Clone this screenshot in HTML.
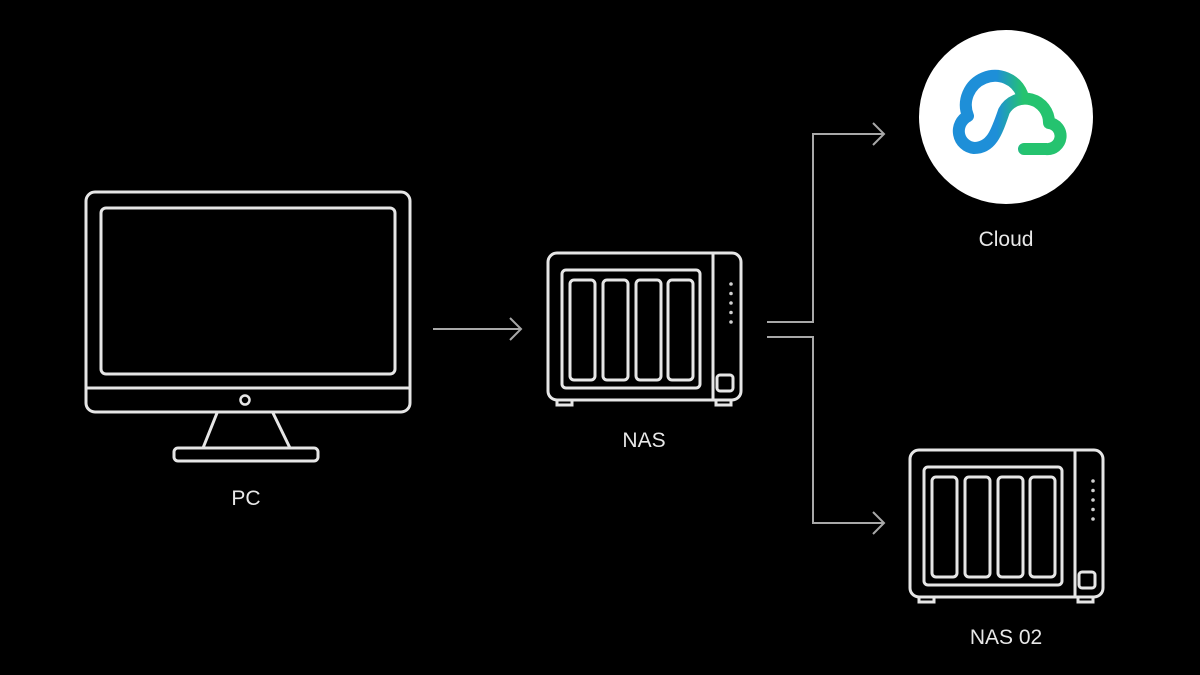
<!DOCTYPE html>
<html><head><meta charset="utf-8"><style>
html,body{margin:0;padding:0;background:#000;}
svg{display:block}
text{font-family:"Liberation Sans",sans-serif;fill:#e8e8e8;font-size:21px;text-anchor:middle}
</style></head><body>
<svg width="1200" height="675" viewBox="0 0 1200 675">
<defs>
<g id="nas" fill="none" stroke="#e6e6e6" stroke-width="3">
  <rect x="0" y="0" width="193" height="147" rx="9"/>
  <line x1="165" y1="0" x2="165" y2="147"/>
  <rect x="14" y="17" width="138" height="118" rx="4"/>
  <rect x="22" y="27" width="25" height="100" rx="4"/>
  <rect x="55" y="27" width="25" height="100" rx="4"/>
  <rect x="88" y="27" width="25" height="100" rx="4"/>
  <rect x="120" y="27" width="25" height="100" rx="4"/>
  <rect x="169" y="122" width="16" height="16" rx="3"/>
  <path d="M9 148 v4 h15 v-4 M168 148 v4 h15 v-4"/>
  <g fill="#cfcfcf" stroke="none">
    <circle cx="183" cy="31" r="1.8"/><circle cx="183" cy="40.5" r="1.8"/><circle cx="183" cy="50" r="1.8"/><circle cx="183" cy="59.5" r="1.8"/><circle cx="183" cy="69" r="1.8"/>
  </g>
</g>
<linearGradient id="cg" gradientUnits="userSpaceOnUse" x1="955" y1="0" x2="1065" y2="0">
  <stop offset="0.38" stop-color="#1e8fd8"/><stop offset="0.62" stop-color="#25c36f"/>
</linearGradient>
</defs>

<g fill="none" stroke="#e6e6e6" stroke-width="3">
  <rect x="86" y="192" width="324" height="220" rx="9"/>
  <rect x="101" y="208" width="294" height="166" rx="5"/>
  <line x1="86" y1="388" x2="410" y2="388"/>
  <circle cx="245" cy="400" r="4.5" stroke-width="2.5"/>
  <path d="M217 413 L203 448 M273 413 L290 448"/>
  <rect x="174" y="448" width="144" height="13" rx="4"/>
</g>
<text x="246" y="505">PC</text>

<g fill="none" stroke="#a8a8a8" stroke-width="2">
  <line x1="433" y1="329" x2="521" y2="329"/>
  <path d="M510 318 L521 329 L510 340"/>
  <path d="M767 322 H813 V134 H884"/>
  <path d="M873 123 L884 134 L873 145"/>
  <path d="M767 337 H813 V523 H884"/>
  <path d="M873 512 L884 523 L873 534"/>
</g>

<use href="#nas" x="548" y="253"/>
<text x="644" y="447">NAS</text>

<use href="#nas" x="910" y="450"/>
<text x="1006" y="644">NAS 02</text>

<circle cx="1006" cy="117" r="87" fill="#fff"/>
<path d="M1024 149 H1046 A13 13 0 0 0 1049 123 A24 24 0 0 0 1004 111 C997 131 992 148 974 148 A17 17 0 0 1 968 116 A29 29 0 0 1 1022 94"
  fill="none" stroke="url(#cg)" stroke-width="12" stroke-linecap="round" stroke-linejoin="round"/>
<text x="1006" y="246">Cloud</text>
</svg>
</body></html>
